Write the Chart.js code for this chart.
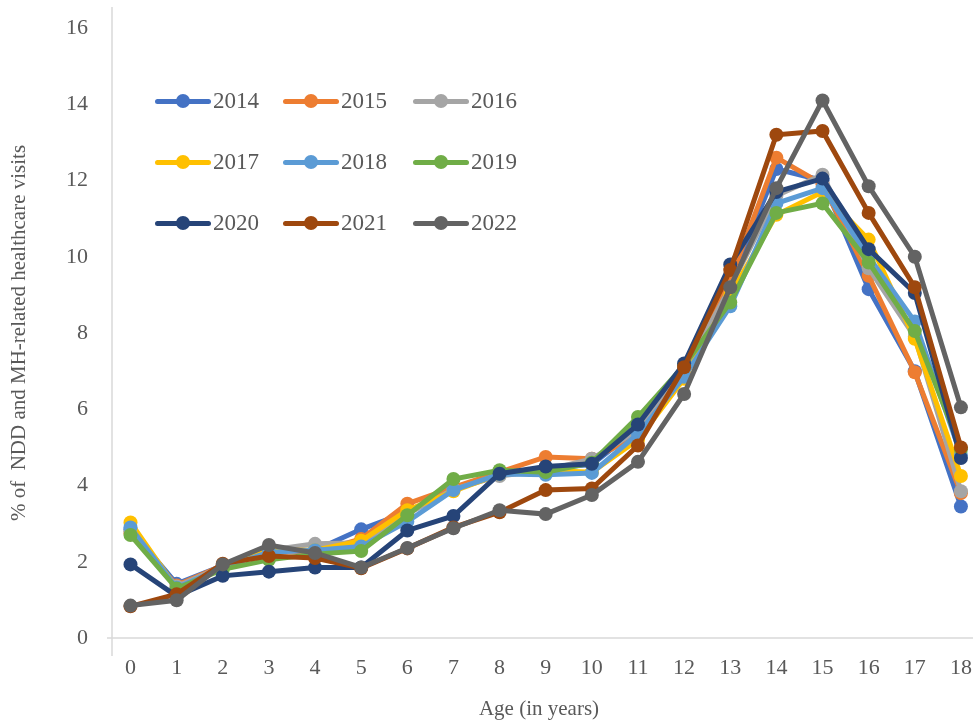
<!DOCTYPE html>
<html>
<head>
<meta charset="utf-8">
<script src="https://cdn.jsdelivr.net/npm/chart.js@4.4.1/dist/chart.umd.min.js"></script>
<style>
  html, body { margin: 0; padding: 0; background: #ffffff; }
  #wrap { position: relative; width: 973px; height: 721px; }
  #chart { position: absolute; left: 0; top: 0; }
  .leg { position: absolute; display: flex; align-items: center; font-family: "Liberation Serif", "Times New Roman", serif; font-size: 23px; color: #595959; }
  .leg .sw { position: relative; width: 56px; height: 16px; margin-right: 2px; }
  .leg .sw .ln { position: absolute; left: 0; right: 0; top: 5.5px; height: 5px; border-radius: 3px; }
  .leg .sw .dot { position: absolute; left: 21px; top: 1px; width: 14px; height: 14px; border-radius: 50%; }
</style>
</head>
<body>
<div id="wrap">
  <canvas id="chart" width="973" height="721"></canvas>
</div>
<script>
// Age of the child, in years
const ages = [0, 1, 2, 3, 4, 5, 6, 7, 8, 9, 10, 11, 12, 13, 14, 15, 16, 17, 18];

// Share (%) of NDD and MH-related healthcare visits by age, one list per year
const y2014 = [2.85, 1.42, 1.90, 2.30, 2.30, 2.85, 3.30, 3.90, 4.30, 4.45, 4.55, 5.50, 7.00, 9.30, 12.30, 12.00, 9.15, 7.00, 3.45];
const y2015 = [2.75, 1.38, 1.90, 2.30, 2.25, 2.60, 3.52, 3.95, 4.35, 4.75, 4.70, 5.30, 6.95, 9.40, 12.60, 11.90, 9.50, 6.97, 3.80];
const y2016 = [2.80, 1.35, 1.88, 2.30, 2.47, 2.50, 3.25, 3.90, 4.25, 4.40, 4.70, 5.45, 7.00, 9.20, 11.60, 12.15, 9.70, 7.90, 3.85];
const y2017 = [3.03, 1.30, 1.85, 2.30, 2.30, 2.55, 3.35, 3.85, 4.30, 4.40, 4.35, 5.20, 6.80, 9.00, 11.10, 11.70, 10.45, 7.85, 4.25];
const y2018 = [2.90, 1.32, 1.85, 2.25, 2.30, 2.40, 3.05, 3.88, 4.30, 4.28, 4.33, 5.35, 6.85, 8.70, 11.40, 11.80, 10.00, 8.30, 4.80];
const y2019 = [2.70, 1.30, 1.80, 2.05, 2.20, 2.28, 3.22, 4.17, 4.40, 4.35, 4.60, 5.80, 7.15, 8.80, 11.15, 11.40, 9.85, 8.05, 4.95];
const y2020 = [1.93, 1.10, 1.63, 1.74, 1.85, 1.85, 2.82, 3.20, 4.31, 4.50, 4.57, 5.60, 7.20, 9.80, 11.70, 12.05, 10.20, 9.05, 4.72];
const y2021 = [0.83, 1.15, 1.95, 2.15, 2.10, 1.83, 2.35, 2.90, 3.30, 3.88, 3.92, 5.05, 7.10, 9.65, 13.20, 13.30, 11.15, 9.20, 5.00];
const y2022 = [0.85, 0.99, 1.93, 2.44, 2.23, 1.85, 2.36, 2.88, 3.35, 3.25, 3.75, 4.62, 6.40, 9.20, 11.80, 14.10, 11.85, 10.00, 6.05];

// Value axis ticks
const yTicks = [0, 2, 4, 6, 8, 10, 12, 14, 16];

const seriesNames = ["2014", "2015", "2016", "2017", "2018", "2019", "2020", "2021", "2022"];
const seriesValues = [y2014, y2015, y2016, y2017, y2018, y2019, y2020, y2021, y2022];
const seriesColors = ["#4472C4", "#ED7D31", "#A5A5A5", "#FFC000", "#5B9BD5", "#70AD47", "#264478", "#9E480E", "#636363"];

const FONT = '"Liberation Serif", "Times New Roman", serif';
const TEXT = '#595959';

const datasets = seriesNames.map((name, i) => ({
  label: name,
  data: seriesValues[i].map((v, k) => ({ x: ages[k], y: v })),
  borderColor: seriesColors[i],
  backgroundColor: seriesColors[i],
  borderWidth: 5,
  pointRadius: 7,
  pointHoverRadius: 7,
  pointBorderWidth: 0,
  tension: 0,
  clip: false,
  // later years are painted over earlier ones
  order: seriesNames.length - i
}));

// Light grey axis lines in the office-chart style
const axisLines = {
  id: 'axisLines',
  beforeDatasetsDraw(chart) {
    const { ctx, chartArea, scales } = chart;
    const y0 = scales.y.getPixelForValue(0);
    ctx.save();
    ctx.strokeStyle = '#d9d9d9';
    ctx.lineWidth = 1.5;
    ctx.beginPath();
    ctx.moveTo(chartArea.left, 7);
    ctx.lineTo(chartArea.left, 656);
    ctx.moveTo(chartArea.left - 5, y0);
    ctx.lineTo(chart.width, y0);
    ctx.stroke();
    ctx.restore();
  }
};

new Chart(document.getElementById('chart'), {
  type: 'line',
  data: { datasets },
  plugins: [axisLines],
  options: {
    responsive: false,
    animation: false,
    events: [],
    layout: { padding: { top: 28, right: 0, bottom: 0, left: 0 } },
    plugins: { legend: { display: false }, tooltip: { enabled: false } },
    scales: {
      x: {
        type: 'linear',
        min: -0.401,
        max: 18.11,
        afterBuildTicks(scale) { scale.ticks = ages.map(v => ({ value: v })); },
        afterFit(scale) { scale.height = 83; scale.paddingLeft = 0; scale.paddingRight = 0; },
        grid: { display: false, drawTicks: false },
        border: { display: false },
        ticks: { color: TEXT, font: { family: FONT, size: 22 }, padding: 17, autoSkip: false, maxRotation: 0 },
        title: { display: true, text: 'Age (in years)', color: TEXT, font: { family: FONT, size: 21 }, padding: { top: 0, bottom: -1 } }
      },
      y: {
        min: 0,
        max: 16,
        afterBuildTicks(scale) { scale.ticks = yTicks.map(v => ({ value: v })); },
        afterFit(scale) { scale.width = 112; scale.paddingTop = 0; scale.paddingBottom = 0; },
        grid: { display: false, drawTicks: false },
        border: { display: false },
        ticks: { color: TEXT, font: { family: FONT, size: 22 }, padding: 24 },
        title: { display: true, text: '% of  NDD and MH-related healthcare visits', color: TEXT, font: { family: FONT, size: 21 }, padding: { top: 7, bottom: 0 } }
      }
    }
  }
});

// Legend laid out in three rows of three inside the plot area
const legendCols = [155, 283, 413];
const legendRows = [101, 162, 223];
const wrap = document.getElementById('wrap');
seriesNames.forEach((name, i) => {
  const item = document.createElement('div');
  item.className = 'leg';
  item.style.left = legendCols[i % 3] + 'px';
  item.style.top = (legendRows[Math.floor(i / 3)] - 13) + 'px';
  item.style.height = '26px';
  item.innerHTML = '<div class="sw"><div class="ln" style="background:' + seriesColors[i] + '"></div><div class="dot" style="background:' + seriesColors[i] + '"></div></div><span>' + name + '</span>';
  wrap.appendChild(item);
});
</script>
</body>
</html>
